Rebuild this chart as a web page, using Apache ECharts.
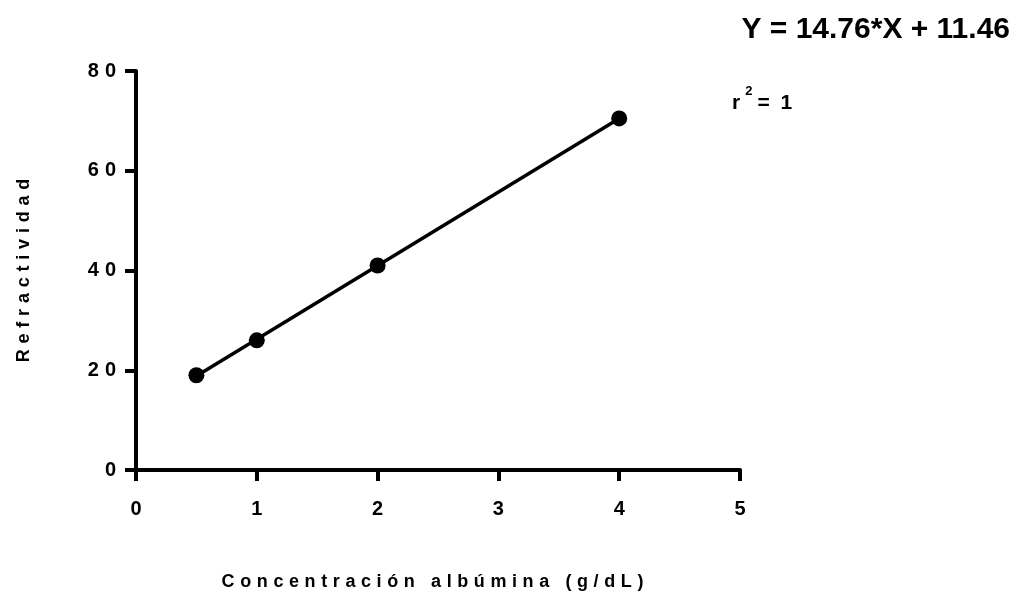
<!DOCTYPE html>
<html>
<head>
<meta charset="utf-8">
<style>
  html, body { margin: 0; padding: 0; background: #fff; }
  #chart { width: 1016px; height: 599px; }
</style>
<script src="https://cdn.jsdelivr.net/npm/echarts@6/dist/echarts.min.js"></script>
</head>
<body>
<div id="chart"></div>
<script>
// Standard curve: refractivity vs albumin concentration
const concentration = [0.5, 1, 2, 4];          // g/dL
const refractivity  = [19, 26, 41, 70.5];
const slope = 14.76;
const intercept = 11.46;
const rSquared = 1;
const xTitle = 'Concentración albúmina (g/dL)';
const yTitle = 'Refractividad';

const FONT = '"Liberation Sans", Arial, Helvetica, sans-serif';

// Fitted line spans the measured range
const xFit = [Math.min(...concentration), Math.max(...concentration)];
const fitLine = xFit.map(x => [x, +(slope * x + intercept).toFixed(2)]);
const points = concentration.map((x, i) => [x, refractivity[i]]);

// Wide letter spacing: each character is its own rich-text token
function tracked(text) {
  return Array.from(text).map((c, i) => '{' + (i ? 's' : 'f') + '|' + c + '}').join('');
}
function trackStyles(size, gap) {
  const base = { fontSize: size, fontWeight: 'bold', fontFamily: FONT, color: '#000' };
  return { f: { ...base }, s: { ...base, padding: [0, 0, 0, gap] } };
}

const axisLine = { show: true, onZero: false, lineStyle: { color: '#000', width: 4 } };
const axisTick = { show: true, inside: false, length: 11, lineStyle: { color: '#000', width: 4 } };

const chart = echarts.init(document.getElementById('chart'), null, { renderer: 'canvas' });
chart.setOption({
  backgroundColor: '#fff',
  animation: false,
  grid: { left: 136, right: 276, top: 71, bottom: 129, containLabel: false, outerBoundsMode: 'none' },
  xAxis: {
    type: 'value', min: 0, max: 5, interval: 1,
    axisLine, axisTick,
    splitLine: { show: false },
    axisLabel: {
      margin: 29, fontSize: 20, fontWeight: 'bold', fontFamily: FONT, color: '#000',
      formatter: v => tracked(String(v)),
      rich: trackStyles(20, 6)
    },
    name: tracked(xTitle), nameLocation: 'middle', nameGap: 103,
    nameTextStyle: { fontSize: 18, fontWeight: 'bold', fontFamily: FONT, color: '#000',
      padding: [0, 11, 0, 0], rich: trackStyles(18, 5.6) }
  },
  yAxis: {
    type: 'value', min: 0, max: 80, interval: 20,
    axisLine, axisTick,
    splitLine: { show: false },
    axisLabel: {
      margin: 20, fontSize: 20, fontWeight: 'bold', fontFamily: FONT, color: '#000',
      formatter: v => tracked(String(v)),
      rich: trackStyles(20, 6)
    },
    name: tracked(yTitle), nameLocation: 'middle', nameGap: 103, nameRotate: 90,
    nameTextStyle: { fontSize: 18, fontWeight: 'bold', fontFamily: FONT, color: '#000',
      rich: trackStyles(18, 5.8) }
  },
  series: [
    {
      type: 'line', data: fitLine, symbol: 'none', silent: true,
      lineStyle: { color: '#000', width: 3.5 }, z: 2
    },
    {
      type: 'scatter', data: points, symbol: 'circle', symbolSize: 16,
      itemStyle: { color: '#000', opacity: 1 }, z: 3
    }
  ],
  graphic: [
    {
      type: 'text', right: 6, top: 15,
      style: {
        text: 'Y = ' + slope.toFixed(2) + '*X + ' + intercept.toFixed(2),
        font: 'bold 30px ' + FONT, fill: '#000'
      }
    },
    {
      type: 'text', x: 732, y: 103,
      style: {
        text: '{r|r}{p|2}{e|= }{v|' + rSquared + '}',
        verticalAlign: 'middle',
        rich: {
          r: { font: 'bold 21px ' + FONT, fill: '#000', lineHeight: 36 },
          p: { font: 'bold 13px ' + FONT, fill: '#000', lineHeight: 14, verticalAlign: 'top', padding: [0, 5, 0, 5] },
          e: { font: 'bold 21px ' + FONT, fill: '#000', lineHeight: 36 },
          v: { font: 'bold 21px ' + FONT, fill: '#000', lineHeight: 36, padding: [0, 0, 0, 5] }
        }
      }
    }
  ]
});
</script>
</body>
</html>
